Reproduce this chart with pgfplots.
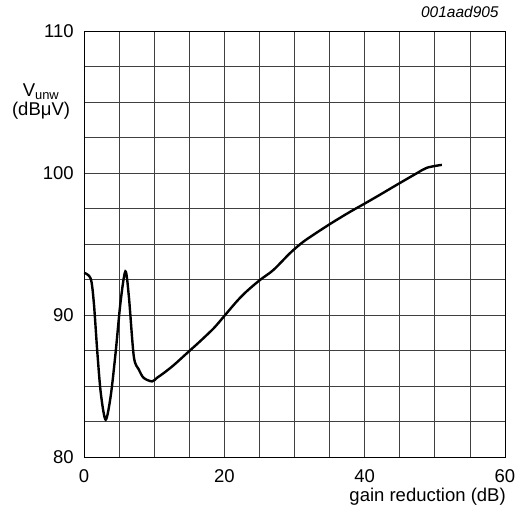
\documentclass[border=0pt]{standalone}
\usepackage{fontspec}
\setmainfont{Liberation Sans}
\usepackage{pgfplots}
\pgfplotsset{compat=1.18}
\begin{document}
\fontsize{18.5bp}{21bp}\selectfont
\begin{tikzpicture}
\begin{axis}[
    scale only axis,
    width=421bp, height=426bp,
    xmin=0, xmax=60, ymin=80, ymax=110,
    xtick={0,20,40,60}, ytick={80,90,100,110},
    minor xtick={5,10,...,55},
    minor ytick={82.5,85,...,107.5},
    grid=both,
    major grid style={black!75, line width=0.8bp},
    minor grid style={black!75, line width=0.8bp},
    axis line style={black, line width=0.9bp},
    major tick length=0pt, minor tick length=0pt,
    /pgf/number format/assume math mode=true,
    ticklabel style={font=\fontsize{18.5bp}{21bp}\selectfont},
    xticklabel style={yshift=-6bp},
    yticklabel style={xshift=-4bp},
    xlabel={gain reduction (dB)},
    xlabel style={at={(rel axis cs:1.017,-0.103)}, anchor=base east, font=\fontsize{18.5bp}{21bp}\selectfont},
    ylabel={V\textsubscript{unw}\\(dBμV)},
    ylabel style={rotate=-90, align=center, at={(rel axis cs:-0.102,0.835)}, anchor=center, font=\fontsize{18.5bp}{19bp}\selectfont},
    title={\itshape 001aad905},
    title style={at={(rel axis cs:1,1)}, anchor=base east, yshift=8bp, font=\fontsize{15.5bp}{18bp}\selectfont},
]
\addplot[black, line width=2.4bp, smooth, tension=0.5] coordinates {
    (0,93.0) (0.95,92.6) (1.4,90.9) (1.9,87.4) (2.4,84.5) (3.08,82.65)
    (3.8,84.3) (4.5,87.35) (5.2,90.9) (5.9,93.1) (6.4,91.3) (7.1,87.1)
    (7.8,86.2) (8.5,85.6) (9.7,85.35) (10.4,85.6) (11.4,85.95) (12.8,86.5)
    (14.7,87.35) (16.6,88.2) (18.5,89.1) (19.9,89.9) (21.8,91.0) (23.2,91.7)
    (25.1,92.5) (27.0,93.2) (29.4,94.4) (31.3,95.2) (33.7,96.0) (35.6,96.6)
    (37.95,97.3) (40.1,97.9) (42.2,98.5) (44.6,99.2) (47.4,100.0) (48.9,100.4)
    (51.0,100.6)
};
\end{axis}
\path (current axis.south west) ++(-84bp,-56bp) rectangle ++(529bp,510bp);
\end{tikzpicture}
\end{document}
